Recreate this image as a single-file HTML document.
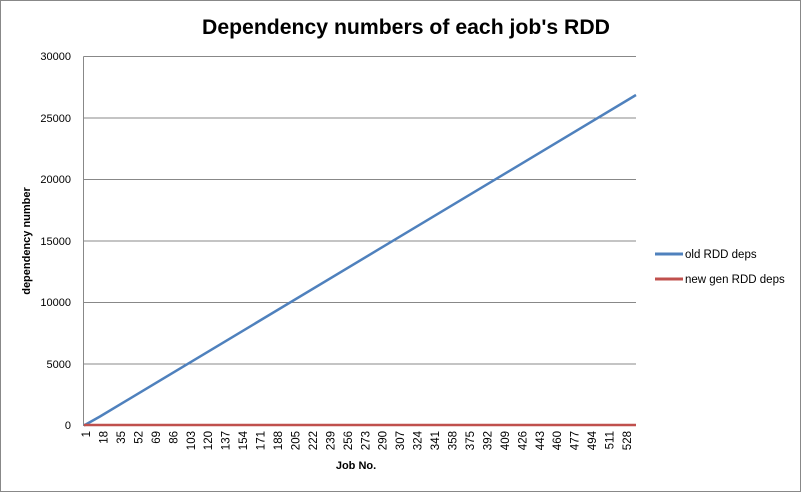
<!DOCTYPE html>
<html><head><style>
html,body{margin:0;padding:0;background:#fff}
svg{display:block;font-family:"Liberation Sans",sans-serif}
</style></head><body>
<svg width="801" height="492" viewBox="0 0 801 492" xmlns="http://www.w3.org/2000/svg">
<rect x="0.5" y="0.5" width="800" height="491" fill="#fff" stroke="#888" stroke-width="1"/>
<text x="406" y="34" text-anchor="middle" font-size="21" font-weight="bold" fill="#000" textLength="408" lengthAdjust="spacingAndGlyphs">Dependency numbers of each job's RDD</text>
<g stroke="#888" stroke-width="1">
<line x1="83.5" y1="56.5" x2="636" y2="56.5"/>
<line x1="83.5" y1="118" x2="636" y2="118"/>
<line x1="83.5" y1="179.5" x2="636" y2="179.5"/>
<line x1="83.5" y1="241" x2="636" y2="241"/>
<line x1="83.5" y1="302.5" x2="636" y2="302.5"/>
<line x1="83.5" y1="364" x2="636" y2="364"/>
<line x1="83.5" y1="56.5" x2="83.5" y2="426"/>
</g>
<g font-size="11" text-anchor="end" fill="#000">
<text x="71" y="60">30000</text>
<text x="71" y="122">25000</text>
<text x="71" y="183">20000</text>
<text x="71" y="245">15000</text>
<text x="71" y="306">10000</text>
<text x="71" y="368">5000</text>
<text x="71" y="429">0</text>
</g>
<text transform="translate(30,241) rotate(-90)" text-anchor="middle" font-size="11" font-weight="bold">dependency number</text>
<text x="356" y="469" text-anchor="middle" font-size="11" font-weight="bold">Job No.</text>
<polyline points="84,425.5 100,416.5 636,95" fill="none" stroke="#4f81bd" stroke-width="2.5"/>
<line x1="84" y1="425" x2="636" y2="425" stroke="#c0504d" stroke-width="2.5"/>
<g font-size="11.5" fill="#000">
<text transform="translate(90,431) rotate(-90)" text-anchor="end">1</text>
<text transform="translate(107.5,431) rotate(-90)" text-anchor="end">18</text>
<text transform="translate(125,431) rotate(-90)" text-anchor="end">35</text>
<text transform="translate(142.4,431) rotate(-90)" text-anchor="end">52</text>
<text transform="translate(159.9,431) rotate(-90)" text-anchor="end">69</text>
<text transform="translate(177.3,431) rotate(-90)" text-anchor="end">86</text>
<text transform="translate(194.8,431) rotate(-90)" text-anchor="end">103</text>
<text transform="translate(212.2,431) rotate(-90)" text-anchor="end">120</text>
<text transform="translate(229.7,431) rotate(-90)" text-anchor="end">137</text>
<text transform="translate(247.1,431) rotate(-90)" text-anchor="end">154</text>
<text transform="translate(264.6,431) rotate(-90)" text-anchor="end">171</text>
<text transform="translate(282,431) rotate(-90)" text-anchor="end">188</text>
<text transform="translate(299.5,431) rotate(-90)" text-anchor="end">205</text>
<text transform="translate(316.9,431) rotate(-90)" text-anchor="end">222</text>
<text transform="translate(334.4,431) rotate(-90)" text-anchor="end">239</text>
<text transform="translate(351.8,431) rotate(-90)" text-anchor="end">256</text>
<text transform="translate(369.3,431) rotate(-90)" text-anchor="end">273</text>
<text transform="translate(386.7,431) rotate(-90)" text-anchor="end">290</text>
<text transform="translate(404.2,431) rotate(-90)" text-anchor="end">307</text>
<text transform="translate(421.6,431) rotate(-90)" text-anchor="end">324</text>
<text transform="translate(439.1,431) rotate(-90)" text-anchor="end">341</text>
<text transform="translate(456.5,431) rotate(-90)" text-anchor="end">358</text>
<text transform="translate(474,431) rotate(-90)" text-anchor="end">375</text>
<text transform="translate(491.4,431) rotate(-90)" text-anchor="end">392</text>
<text transform="translate(508.9,431) rotate(-90)" text-anchor="end">409</text>
<text transform="translate(526.3,431) rotate(-90)" text-anchor="end">426</text>
<text transform="translate(543.8,431) rotate(-90)" text-anchor="end">443</text>
<text transform="translate(561.2,431) rotate(-90)" text-anchor="end">460</text>
<text transform="translate(578.7,431) rotate(-90)" text-anchor="end">477</text>
<text transform="translate(596.1,431) rotate(-90)" text-anchor="end">494</text>
<text transform="translate(613.6,431) rotate(-90)" text-anchor="end">511</text>
<text transform="translate(631,431) rotate(-90)" text-anchor="end">528</text>
</g>
<line x1="655" y1="254" x2="683" y2="254" stroke="#4f81bd" stroke-width="3"/>
<line x1="655" y1="279" x2="683" y2="279" stroke="#c0504d" stroke-width="3"/>
<text x="685" y="258" font-size="11.5">old RDD deps</text>
<text x="685" y="283" font-size="11.5">new gen RDD deps</text>
</svg>
</body></html>
